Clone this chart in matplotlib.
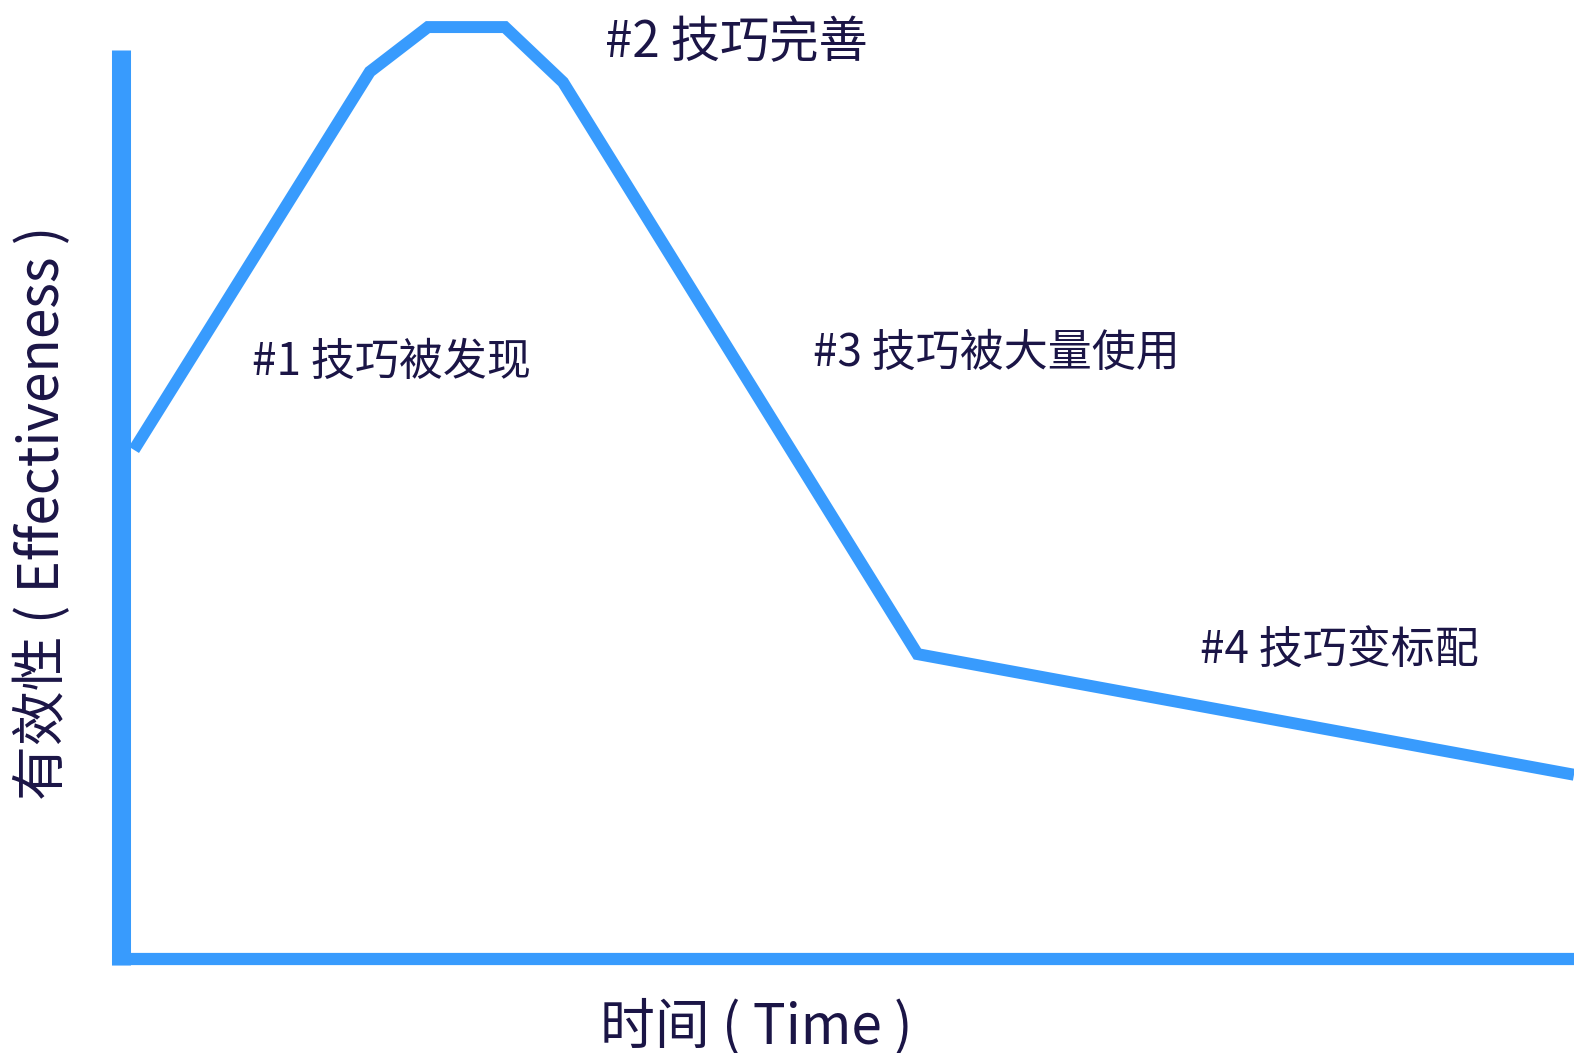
import matplotlib
matplotlib.use("Agg")
import matplotlib.pyplot as plt

plt.rcParams['font.family'] = ['Noto Sans CJK SC', 'DejaVu Sans']

# Data (time, effectiveness)
time = [0.86, 17.1, 21.1, 26.4, 30.4, 54.8, 100.0]
effectiveness = [53.6, 93.4, 98.1, 98.1, 92.3, 32.1, 19.4]

stage_labels = ["#1 技巧被发现", "#2 技巧完善", "#3 技巧被大量使用", "#4 技巧变标配"]
x_label = "时间 ( Time )"
y_label = "有效性 ( Effectiveness )"

BLUE = "#389BFD"
NAVY = "#1B1546"

fig = plt.figure(figsize=(15.74, 10.53), dpi=100)
ax = fig.add_axes([0, 0, 1, 1])
ax.set_xlim(-8.36, 100)
ax.set_ylim(-9.89, 100.95)
ax.axis('off')

# axis lines
ax.plot([0, 0], [-0.63, 95.7], color=BLUE, lw=13.7, solid_capstyle='butt')
ax.plot([-0.66, 100], [0, 0], color=BLUE, lw=8.8, solid_capstyle='butt')

# effectiveness curve
ax.plot(time, effectiveness, color=BLUE, lw=8.6, solid_joinstyle='miter',
        solid_capstyle='butt')

positions = [(252, 362), (605, 43), (813, 353), (1200, 650)]
sizes = [31.7, 35.5, 31.7, 31.7]
for lab, (px, py), fs in zip(stage_labels, positions, sizes):
    fig.text(px / 1574, 1 - py / 1053, lab, fontsize=fs, color=NAVY,
             ha='left', va='center')

fig.text(756 / 1574, 1 - 1027 / 1053, x_label, fontsize=39.5, color=NAVY,
         ha='center', va='center')
fig.text(43 / 1574, 1 - 513 / 1053, y_label, fontsize=39.5, color=NAVY,
         ha='center', va='center', rotation=90)

fig.savefig("out.png", dpi=100, facecolor='white')
